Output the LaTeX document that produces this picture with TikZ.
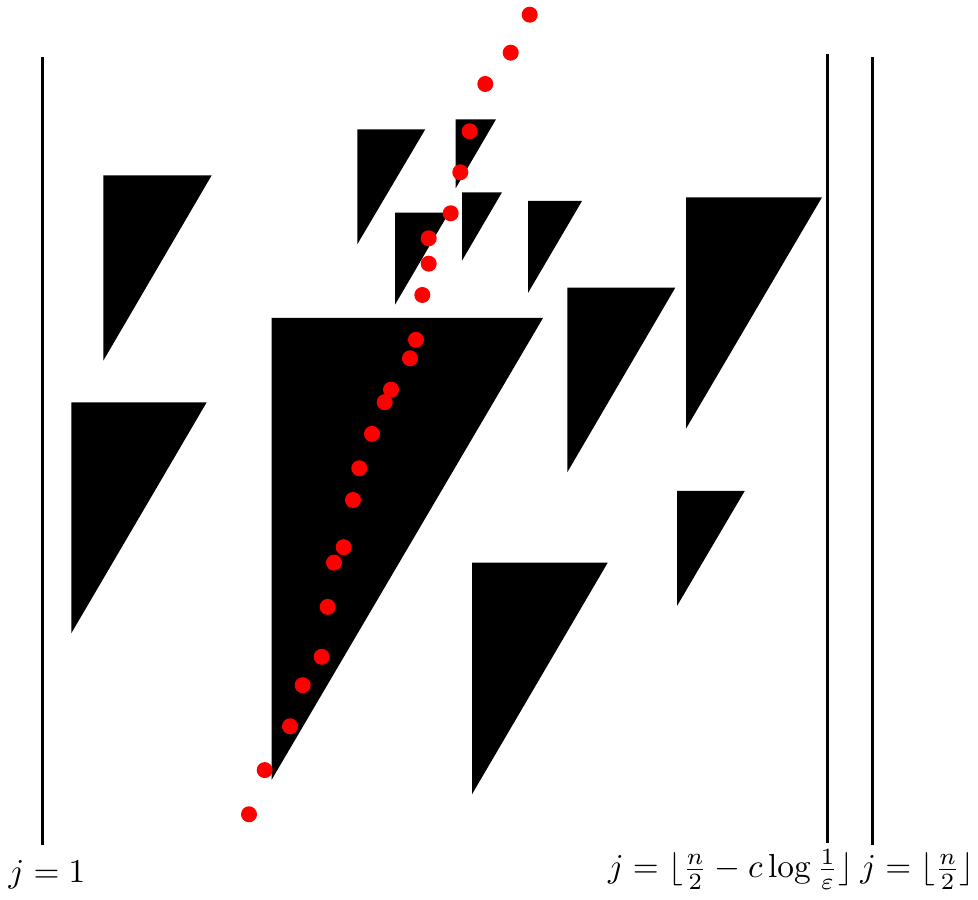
\documentclass[tikz,border=0pt]{standalone}
\begin{document}
\begin{tikzpicture}[x=0.3pt,y=-0.3pt,
  tri/.style={fill=black},
  dot/.style={fill=red,draw=none},
  bar/.style={line width=0.9pt}]
\useasboundingbox (0,0) rectangle (978,900);
% vertical lines
\coordinate (l1t) at (42,57);  \coordinate (l1b) at (42,845);
\coordinate (l2t) at (827,54); \coordinate (l2b) at (827,843);
\coordinate (l3t) at (872,57); \coordinate (l3b) at (872,845);
\draw[bar] (l1t) -- (l1b);
\draw[bar] (l2t) -- (l2b);
\draw[bar] (l3t) -- (l3b);
% triangles
\fill[tri] (271.5,318) -- (543,318) -- (271.5,780) -- cycle;
\fill[tri] (103.3,175.3) -- (211.7,175.3) -- (103.3,360.7) -- cycle;
\fill[tri] (71.3,402.3) -- (206.7,402.3) -- (71.3,633.3) -- cycle;
\fill[tri] (567.3,287.7) -- (675.3,287.7) -- (567.3,472.3) -- cycle;
\fill[tri] (686,197.3) -- (822,197.3) -- (686,428.7) -- cycle;
\fill[tri] (528,201) -- (582,201) -- (528,293) -- cycle;
\fill[tri] (472,562.7) -- (607.7,562.7) -- (472,794.3) -- cycle;
\fill[tri] (677,491) -- (744.7,491) -- (677,606) -- cycle;
\fill[tri] (357.3,129.3) -- (425.3,129.3) -- (357.3,244.3) -- cycle;
\fill[tri] (455.7,119.3) -- (496,119.3) -- (455.7,188.3) -- cycle;
\fill[tri] (462,192.3) -- (502,192.3) -- (462,260.7) -- cycle;
\fill[tri] (395,212.7) -- (449,212.7) -- (395,304.7) -- cycle;
% dots
\foreach \px/\py in {529.7/14.7, 510.7/52.7, 485.3/84, 469.7/131.3, 460.3/172.3,
  450.7/213.3, 428.7/238.3, 428.7/263.7, 422.3/295, 416/339.8, 410/358.3,
  391/389.7, 384.7/402.2, 372/433.9, 359.3/468.3, 353/500, 343.7/547.2,
  334/562.7, 327.7/606.9, 321.7/656.8, 302.7/685.2, 290/726.3, 264.7/770.1,
  249/814.3}
  \fill[dot] (\px,\py) circle[radius=8];
% labels
\node[anchor=base,inner sep=0pt] (lab1) at (47,883) {$j=1$};
\node[anchor=base,inner sep=0pt] (lab2) at (730.5,878) {$j=\lfloor\frac{n}{2}-c\log\frac{1}{\varepsilon}\rfloor$};
\node[anchor=base,inner sep=0pt] (lab3) at (917.5,878) {$j=\lfloor\frac{n}{2}\rfloor$};
\end{tikzpicture}
\end{document}
